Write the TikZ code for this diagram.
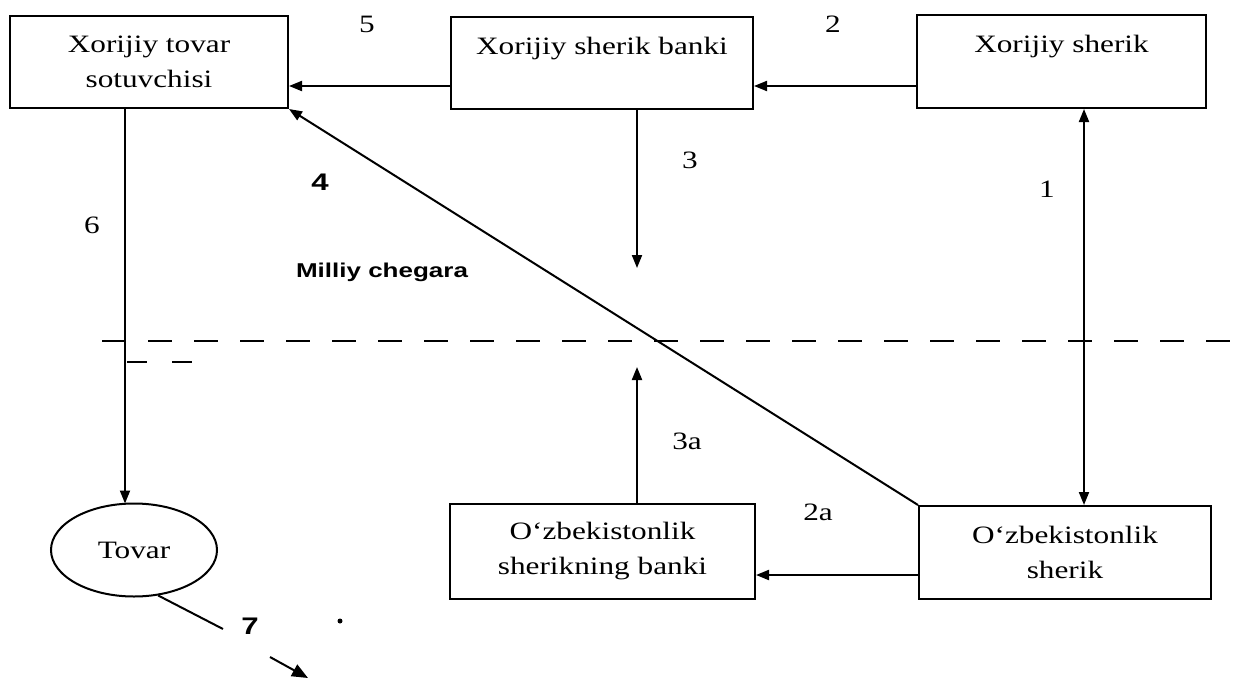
\documentclass[tikz,border=0pt]{standalone}
\usepackage{fontspec}
\setmainfont{Liberation Serif}[FakeStretch=1.25]
\newfontfamily\labsans{Liberation Sans}[FakeStretch=1.3]
\usetikzlibrary{arrows.meta,shapes.geometric}
\begin{document}
\begin{tikzpicture}[x=1pt,y=-1pt,
  box/.style={draw,line width=2pt,rectangle,inner sep=0pt,align=center,
    font=\fontsize{25}{35}\selectfont},
  oval/.style={draw,line width=2pt,ellipse,inner sep=0pt,
    minimum width=166pt,minimum height=93pt,font=\fontsize{25}{35}\selectfont},
  conn/.style={line width=2pt},
  arr/.style={conn,-{Triangle[length=13pt,width=10pt]}},
  dbl/.style={conn,{Triangle[length=13pt,width=10pt]}-{Triangle[length=13pt,width=10pt]}},
  lab/.style={font=\fontsize{25}{28}\selectfont,inner sep=0pt},
  blab/.style={font=\labsans\bfseries\fontsize{24}{28}\selectfont,inner sep=0pt},
  border/.style={line width=2.2pt,dash pattern=on 24pt off 22pt}
]
\useasboundingbox (0,0) rectangle (1248,678);
\fill[white] (0,0) rectangle (1248,678);

% boxes
\node[box,minimum width=278pt,minimum height=92pt] (A) at (149,62)
  {Xorijiy tovar\\sotuvchisi};
\node[box,minimum width=302pt,minimum height=92pt] (B) at (602,63)
  {Xorijiy sherik banki\\\mbox{}};
\node[box,minimum width=289pt,minimum height=93pt] (C) at (1061.5,61.5)
  {Xorijiy sherik\\\mbox{}};
\node[box,minimum width=305pt,minimum height=95pt] (E) at (602.5,551.5)
  {O‘zbekistonlik\\sherikning banki};
\node[box,minimum width=292pt,minimum height=93pt] (D) at (1065,552.5)
  {O‘zbekistonlik\\sherik};
\node[oval] (T) at (134,550) {Tovar};

% free ends
\coordinate (e3) at (637,268);
\coordinate (e3a) at (637,367);
\coordinate (m7a) at (223,629);
\coordinate (s7b) at (270,657);
\coordinate (e7b) at (308,678);

% national border
\draw[border] (102,341) -- (1248,341);
\draw[border,dash pattern=on 20pt off 25pt] (127,362) -- (200,362);

% connectors
\draw[arr] (B.west |- 0,86) -- (A.east |- 0,86);
\draw[arr] (C.west |- 0,86) -- (B.east |- 0,86);
\draw[arr] (B.south -| e3) -- (e3);
\draw[dbl] (C.south -| 1084,0) -- (D.north -| 1084,0);
\draw[arr] (D.north west) -- (A.south east);
\draw[arr] (A.south -| 125,0) -- (125,503.5);
\draw[arr] (E.north -| e3a) -- (e3a);
\draw[arr] (D.west |- 0,575) -- (E.east |- 0,575);
\draw[conn] (T.-62) -- (m7a);
\draw[conn,-{Triangle[length=16pt,width=13pt]}] (s7b) -- (e7b);
\fill (340,621) circle (2.5pt);

% labels
\node[lab] (l5) at (367,24) {5};
\node[lab] (l2) at (833,24) {2};
\node[lab] (l3) at (690,160) {3};
\node[lab] (l1) at (1047,189) {1};
\node[lab] (l6) at (92,225) {6};
\node[blab] (l4) at (320,182) {4};
\node[blab] (l7) at (250,626) {7};
\node[lab] (l3a) at (687,441) {3a};
\node[lab] (l2a) at (818,512) {2a};
\node[inner sep=0pt,font=\labsans\bfseries\fontsize{20}{24}\selectfont] (mc) at (382,272) {Milliy chegara};
\end{tikzpicture}
\end{document}
